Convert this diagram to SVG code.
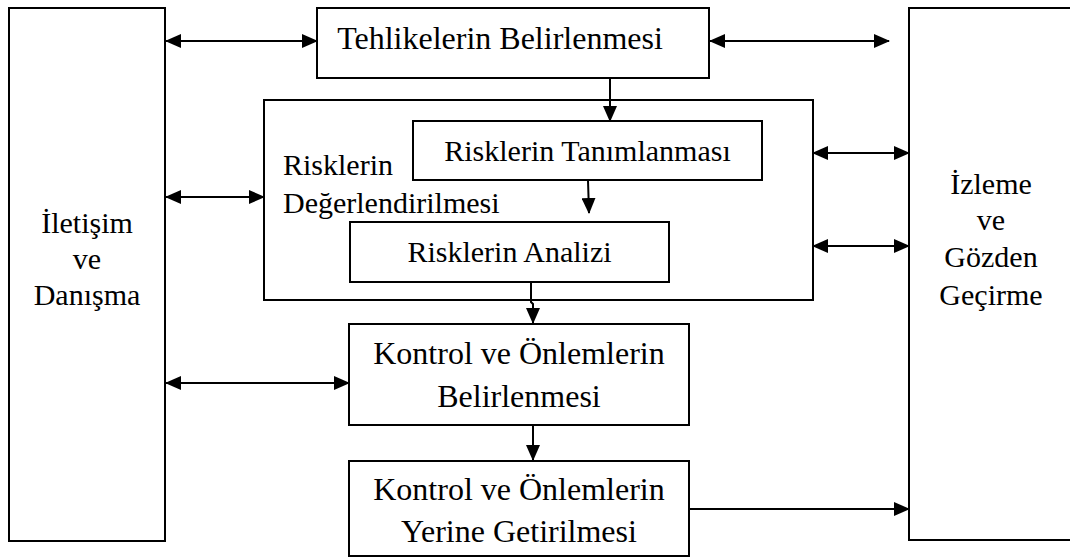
<svg xmlns="http://www.w3.org/2000/svg" width="1070" height="557" viewBox="0 0 1070 557">
<style>
.box{fill:none;stroke:#000;stroke-width:2}
.t{font-family:'Liberation Serif','Times New Roman',serif;font-size:30px;fill:#000}
.big{font-size:32px}
.c{text-anchor:middle}
.ln{fill:none;stroke:#000;stroke-width:2}
.a2{marker-start:url(#ah);marker-end:url(#ah)}
.a1{marker-end:url(#ah)}
</style>
<defs>
<marker id="ah" markerUnits="userSpaceOnUse" markerWidth="16" markerHeight="14" refX="15" refY="7" orient="auto-start-reverse">
<path d="M0,0 L16,7 L0,14 z" fill="#000"/>
</marker>
</defs>
<rect width="1070" height="557" fill="#fff"/>
<g id="iletisim">
<rect class="box" x="9" y="8" width="156" height="533"/>
<text class="t c" x="87" y="233">İletişim</text>
<text class="t c" x="87" y="269">ve</text>
<text class="t c" x="87" y="305">Danışma</text>
</g>
<g id="izleme">
<rect class="box" x="909" y="8" width="200" height="532"/>
<text class="t c" x="991" y="194">İzleme</text>
<text class="t c" x="991" y="230">ve</text>
<text class="t c" x="991" y="267">Gözden</text>
<text class="t c" x="991" y="305">Geçirme</text>
</g>
<g id="tehlike">
<rect class="box" x="317" y="8" width="392" height="70"/>
<text class="t big c" x="500" y="49">Tehlikelerin Belirlenmesi</text>
</g>
<g id="degerlendirme">
<rect class="box" x="264" y="100" width="549" height="200"/>
<text class="t" x="283" y="175">Risklerin</text>
<text class="t" x="283" y="213">Değerlendirilmesi</text>
</g>
<g id="tanimlama">
<rect class="box" x="413" y="121" width="349" height="59"/>
<text class="t c" x="587.5" y="161">Risklerin Tanımlanması</text>
</g>
<g id="analiz">
<rect class="box" x="350" y="222" width="319" height="60"/>
<text class="t c" x="509.5" y="262">Risklerin Analizi</text>
</g>
<g id="kontrol1">
<rect class="box" x="349" y="324" width="340" height="101"/>
<text class="t big c" x="519" y="364">Kontrol ve Önlemlerin</text>
<text class="t big c" x="519" y="407">Belirlenmesi</text>
</g>
<g id="kontrol2">
<rect class="box" x="349" y="461" width="340" height="95"/>
<text class="t big c" x="519" y="500">Kontrol ve Önlemlerin</text>
<text class="t big c" x="519" y="542">Yerine Getirilmesi</text>
</g>
<g id="connectors">
<line class="ln a2" x1="166" y1="41" x2="317" y2="41"/>
<line class="ln a2" x1="710" y1="41" x2="889" y2="41"/>
<line class="ln a1" x1="610" y1="78" x2="610" y2="121"/>
<line class="ln a2" x1="166" y1="197" x2="264" y2="197"/>
<line class="ln a2" x1="813" y1="153" x2="909" y2="153"/>
<line class="ln a2" x1="813" y1="246" x2="909" y2="246"/>
<line class="ln a1" x1="588" y1="180" x2="589" y2="213"/>
<path class="ln a1" d="M531,282 L531,302 L533,304 L533,323"/>
<line class="ln a1" x1="533" y1="425" x2="533" y2="460"/>
<line class="ln a2" x1="166" y1="383" x2="349" y2="383"/>
<line class="ln a1" x1="689" y1="509" x2="909" y2="509"/>
</g>
</svg>
